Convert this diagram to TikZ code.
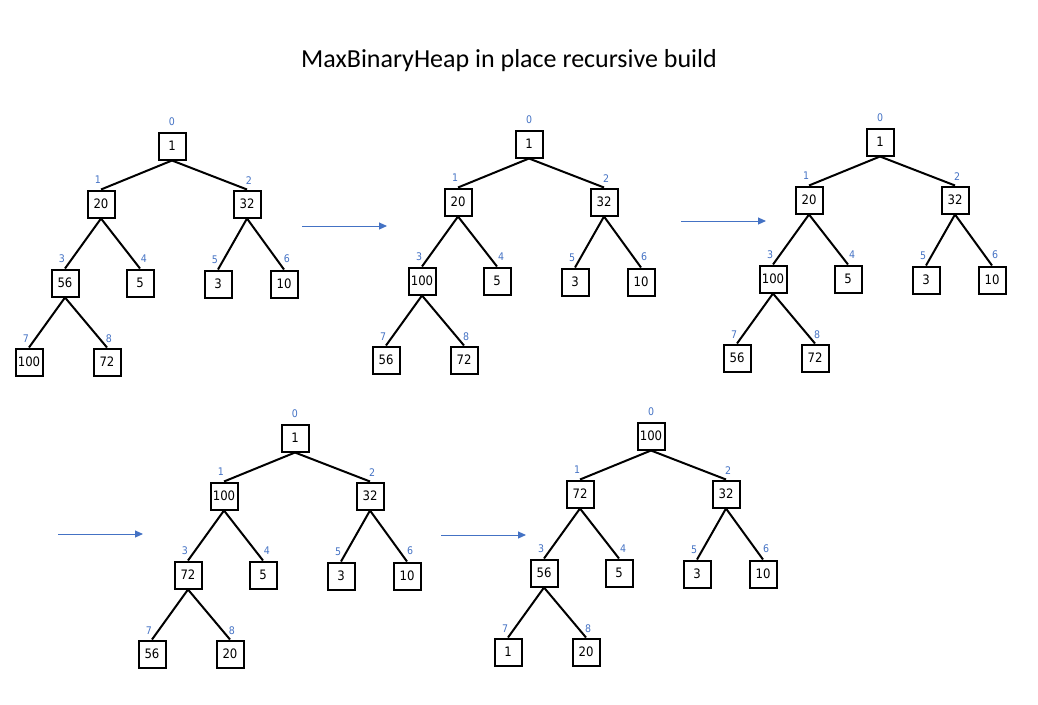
\documentclass[tikz,border=0pt]{standalone}
\usepackage{fontspec}
\usetikzlibrary{arrows.meta}
\newfontfamily\titlefont{Carlito}
\newfontfamily\nodefont{DejaVu Sans Condensed}
\definecolor{idxblue}{HTML}{4472C4}
\tikzset{
  box/.style={draw=black, line width=2pt, minimum width=27pt, minimum height=27pt, inner sep=0pt, font=\nodefont\fontsize{13}{15}\selectfont},
  idx/.style={text=idxblue, inner sep=0pt, font=\nodefont\fontsize{10.5}{12}\selectfont},
  edge/.style={draw=black, line width=2pt},
  arr/.style={draw=idxblue, line width=1pt, -{Triangle[length=8pt,width=7pt]}},
}
\newcommand\heaptree[9]{%
  \node[box] (n0) at (172,146) {#1};
  \node[box] (n1) at (101,204) {#2};
  \node[box] (n2) at (247,204) {#3};
  \node[box] (n3) at (65,283) {#4};
  \node[box] (n4) at (140,283) {#5};
  \node[box] (n5) at (218,284) {#6};
  \node[box] (n6) at (284,284) {#7};
  \node[box] (n7) at (29,362) {#8};
  \node[box] (n8) at (107,362) {#9};
  \node[idx] (i0) at (172,122) {0};
  \node[idx] (i1) at (98,180) {1};
  \node[idx] (i2) at (249,181) {2};
  \node[idx] (i3) at (62,259) {3};
  \node[idx] (i4) at (144,259) {4};
  \node[idx] (i5) at (215,260) {5};
  \node[idx] (i6) at (287,259) {6};
  \node[idx] (i7) at (26,339) {7};
  \node[idx] (i8) at (109,339) {8};
  \draw[edge] (n0.south) -- (n1.north);
  \draw[edge] (n0.south) -- (n2.north);
  \draw[edge] (n1.south) -- (n3.north);
  \draw[edge] (n1.south) -- (n4.north);
  \draw[edge] (n2.south) -- (n5.north);
  \draw[edge] (n2.south) -- (n6.north);
  \draw[edge] (n3.south) -- (n7.north);
  \draw[edge] (n3.south) -- (n8.north);
}
\begin{document}
\begin{tikzpicture}[x=1pt,y=-1pt]
\useasboundingbox (0,0) rectangle (1038,704);
\node[font=\titlefont\fontsize{26}{30}\selectfont, inner sep=0pt] (title) at (509,61) {MaxBinaryHeap in place recursive build};
\begin{scope}[name prefix=a-]
  \heaptree{1}{20}{32}{56}{5}{3}{10}{100}{72}
\end{scope}
\begin{scope}[shift={(357,-2)}, name prefix=b-]
  \heaptree{1}{20}{32}{100}{5}{3}{10}{56}{72}
\end{scope}
\begin{scope}[shift={(708,-4)}, name prefix=c-]
  \heaptree{1}{20}{32}{100}{5}{3}{10}{56}{72}
\end{scope}
\begin{scope}[shift={(123,292)}, name prefix=d-]
  \heaptree{1}{100}{32}{72}{5}{3}{10}{56}{20}
\end{scope}
\begin{scope}[shift={(479,290)}, name prefix=e-]
  \heaptree{100}{72}{32}{56}{5}{3}{10}{1}{20}
\end{scope}
\coordinate (s1) at (302,226); \coordinate (e1) at (387,226);
\coordinate (s2) at (681,221); \coordinate (e2) at (766,221);
\coordinate (s3) at (58,534);  \coordinate (e3) at (143,534);
\coordinate (s4) at (441,535); \coordinate (e4) at (526,535);
\draw[arr] (s1) -- (e1);
\draw[arr] (s2) -- (e2);
\draw[arr] (s3) -- (e3);
\draw[arr] (s4) -- (e4);
\end{tikzpicture}
\end{document}
